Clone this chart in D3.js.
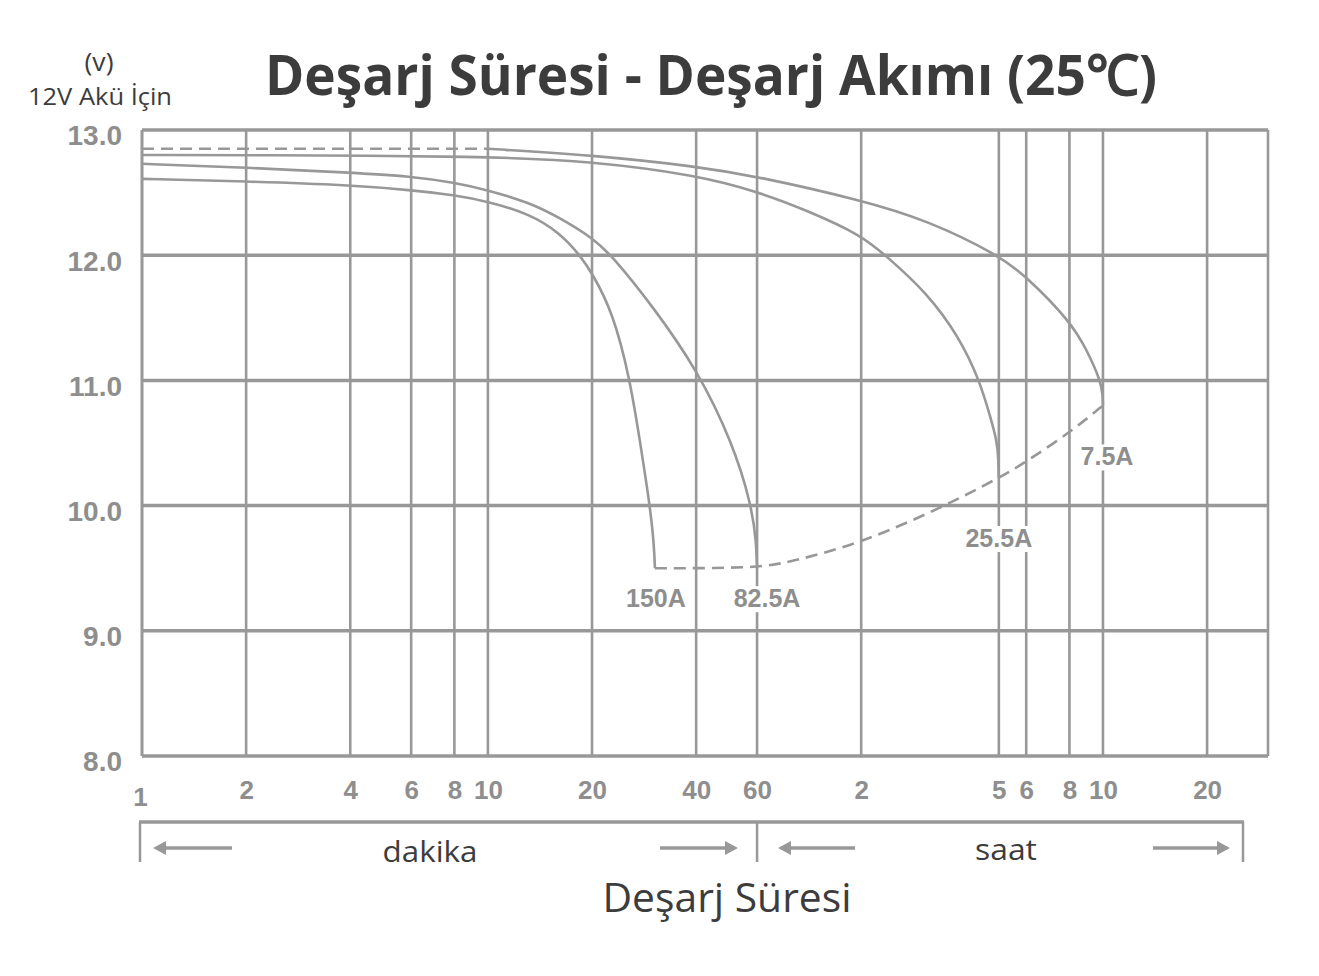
<!DOCTYPE html>
<html>
<head>
<meta charset="utf-8">
<script src="https://cdn.jsdelivr.net/npm/d3@7"></script>
<style>
  body { margin: 0; background: #fff; }
</style>
</head>
<body>
<div id="wrapper"></div>
<script>
// discharge time in minutes, voltage in volts
const xTickValues = [1, 2, 4, 6, 8, 10, 20, 40, 60, 120, 300, 360, 480, 600, 1200]
const xTickLabels = ["1", "2", "4", "6", "8", "10", "20", "40", "60", "2", "5", "6", "8", "10", "20"]
const yTickValues = [8, 9, 10, 11, 12, 13]
const currentLabels = ["150A", "82.5A", "25.5A", "7.5A"]

const curve150A = [[1, 12.61], [2, 12.59], [4, 12.56], [6, 12.52], [8, 12.48], [10, 12.43], [13.2, 12.33],
  [16.1, 12.18], [18.45, 12.0], [20, 11.86], [23, 11.54], [25.7, 11.02], [27.5, 10.52], [29.4, 10.0],
  [30.2, 9.7], [30.4, 9.5]]
const curve82A = [[1, 12.73], [2, 12.70], [4, 12.66], [6, 12.63], [8, 12.58], [10, 12.52], [13.2, 12.42],
  [16.1, 12.30], [20, 12.14], [22.8, 12.0], [30, 11.59], [40.4, 11.08], [51, 10.5], [57.9, 10.0],
  [59.7, 9.7], [60, 9.5]]
const curve25A = [[1, 12.80], [2, 12.80], [10, 12.79], [20, 12.75], [40, 12.64], [60, 12.51], [85, 12.35],
  [120, 12.16], [141, 12.0], [186, 11.70], [230, 11.35], [264, 11.0], [284, 10.70], [296, 10.52],
  [299, 10.38], [300, 10.22]]
const curve7A = [[10, 12.85], [20, 12.80], [40, 12.71], [60, 12.63], [120, 12.44], [186, 12.28], [300, 12.0],
  [360, 11.83], [480, 11.48], [538, 11.25], [592, 10.99], [599, 10.88], [600, 10.8]]
const startDashed = [[1, 12.85], [10, 12.85]]
const cutoffDashed = [[30.4, 9.5], [60, 9.5], [75, 9.55], [120, 9.70], [207, 9.99], [300, 10.22],
  [360, 10.35], [490, 10.60], [600, 10.8]]

const curves = [curve150A, curve82A, curve25A, curve7A]

const width = 1319, height = 976
const plot = { left: 142, right: 1268, top: 130, bottom: 756 }
const grey = "#989898"
const labelGrey = "#8e8e8e"
const dark = "#3c3c3c"

const svg = d3.select("#wrapper").append("svg")
  .attr("width", width)
  .attr("height", height)

const xScale = d3.scaleLog().domain([1, 1800]).range([plot.left, plot.right])
const yScale = d3.scaleLinear().domain([8, 13]).range([plot.bottom, plot.top])

// title + y unit
svg.append("text")
  .attr("x", 711).attr("y", 95)
  .attr("text-anchor", "middle")
  .attr("textLength", 892).attr("lengthAdjust", "spacingAndGlyphs")
  .style("font-family", "'Open Sans', sans-serif").style("font-weight", 700)
  .style("font-size", "56px").style("fill", dark)
  .text("Deşarj Süresi - Deşarj Akımı (25℃)")

svg.append("text")
  .attr("x", 99).attr("y", 71).attr("text-anchor", "middle")
  .attr("textLength", 29).attr("lengthAdjust", "spacingAndGlyphs")
  .style("font-family", "'Open Sans', sans-serif").style("font-size", "26px").style("fill", dark)
  .text("(v)")
svg.append("text")
  .attr("x", 100).attr("y", 105).attr("text-anchor", "middle")
  .attr("textLength", 144).attr("lengthAdjust", "spacingAndGlyphs")
  .style("font-family", "'Open Sans', sans-serif").style("font-size", "23px").style("fill", dark)
  .text("12V Akü İçin")

// grid
const grid = svg.append("g")
grid.selectAll(".hgrid").data(yTickValues).join("line")
  .attr("x1", plot.left).attr("x2", plot.right)
  .attr("y1", d => yScale(d)).attr("y2", d => yScale(d))
  .attr("stroke", grey).attr("stroke-width", 3.5)
grid.selectAll(".vgrid").data([1, ...xTickValues, 1800]).join("line")
  .attr("x1", d => xScale(d)).attr("x2", d => xScale(d))
  .attr("y1", plot.top).attr("y2", plot.bottom)
  .attr("stroke", grey).attr("stroke-width", 2.6)

// axis labels
const yAxis = svg.append("g")
  .attr("transform", `translate(${plot.left - 17},6)`)
  .call(d3.axisLeft(yScale).tickValues(yTickValues).tickFormat(d3.format(".1f")).tickSize(0))
yAxis.select(".domain").remove()
yAxis.selectAll("text")
  .style("font-family", "'Liberation Sans', Arial, sans-serif").style("font-weight", 700)
  .style("font-size", "28px").style("fill", labelGrey)

const xAxis = svg.append("g")
  .attr("transform", `translate(0,${plot.bottom + 22})`)
  .call(d3.axisBottom(xScale).tickValues(xTickValues).tickFormat((d, i) => xTickLabels[i]).tickSize(0))
xAxis.select(".domain").remove()
xAxis.selectAll("text")
  .style("font-family", "'Liberation Sans', Arial, sans-serif").style("font-weight", 700)
  .style("font-size", "26px").style("fill", labelGrey)
xAxis.selectAll(".tick").filter(d => d === 1).select("text").attr("dx", -2).attr("dy", "0.95em")

// curve end labels with white boxes cutting the grid
const labelOffsets = [[1, 39], [10, 39], [0, 69], [4, 60]]
const ends = curves.map((c, i) => {
  const last = c[c.length - 1]
  return { text: currentLabels[i], x: xScale(last[0]) + labelOffsets[i][0], y: yScale(last[1]) + labelOffsets[i][1] }
})
const labelG = svg.append("g")
const labelTexts = labelG.selectAll("text").data(ends).join("text")
  .attr("x", d => d.x).attr("y", d => d.y)
  .attr("text-anchor", "middle")
  .style("font-family", "'Liberation Sans', Arial, sans-serif").style("font-weight", 700)
  .style("font-size", "25px").style("fill", labelGrey)
  .text(d => d.text)
labelTexts.each(function () {
  const b = this.getBBox()
  labelG.insert("rect", "text")
    .attr("x", b.x - 3).attr("y", b.y + 2).attr("width", b.width + 6).attr("height", b.height - 2)
    .attr("fill", "#fff")
})

// curves (B-spline keeps the drawn knees smooth)
const line = d3.line()
  .x(d => xScale(d[0]))
  .y(d => yScale(d[1]))
  .curve(d3.curveBasis)

svg.append("g").selectAll("path").data(curves).join("path")
  .attr("d", line)
  .attr("fill", "none").attr("stroke", grey).attr("stroke-width", 2.6)

svg.append("g").selectAll("path").data([startDashed, cutoffDashed]).join("path")
  .attr("d", line)
  .attr("fill", "none").attr("stroke", grey).attr("stroke-width", 2.6)
  .attr("stroke-dasharray", "12,7")

labelG.raise()

// bracket under the axis: dakika | saat
const bracket = svg.append("g").attr("stroke", grey).attr("fill", grey)
const by = 822
bracket.append("line").attr("x1", 139).attr("x2", 1244).attr("y1", by).attr("y2", by).attr("stroke-width", 3.5)
;[140, xScale(60), 1243].forEach(x => {
  bracket.append("line").attr("x1", x).attr("x2", x).attr("y1", by).attr("y2", 862).attr("stroke-width", 2.5)
})
const arrows = [[232, 153], [660, 738], [855, 778], [1153, 1230]]
arrows.forEach(([from, to]) => {
  const dir = Math.sign(to - from)
  bracket.append("line").attr("x1", from).attr("x2", to - dir * 10).attr("y1", 848).attr("y2", 848).attr("stroke-width", 3.5)
  bracket.append("path")
    .attr("stroke", "none")
    .attr("d", `M${to},848 L${to - dir * 13},841 L${to - dir * 13},855 Z`)
})

svg.append("text")
  .attr("x", 430).attr("y", 862).attr("text-anchor", "middle")
  .attr("textLength", 95).attr("lengthAdjust", "spacingAndGlyphs")
  .style("font-family", "'Open Sans', sans-serif").style("font-size", "30px").style("fill", dark)
  .text("dakika")
svg.append("text")
  .attr("x", 1006).attr("y", 860).attr("text-anchor", "middle")
  .attr("textLength", 62).attr("lengthAdjust", "spacingAndGlyphs")
  .style("font-family", "'Open Sans', sans-serif").style("font-size", "30px").style("fill", dark)
  .text("saat")
svg.append("text")
  .attr("x", 727).attr("y", 912).attr("text-anchor", "middle")
  .attr("textLength", 249).attr("lengthAdjust", "spacingAndGlyphs")
  .style("font-family", "'Open Sans', sans-serif").style("font-size", "41px").style("fill", dark)
  .text("Deşarj Süresi")
</script>
</body>
</html>
